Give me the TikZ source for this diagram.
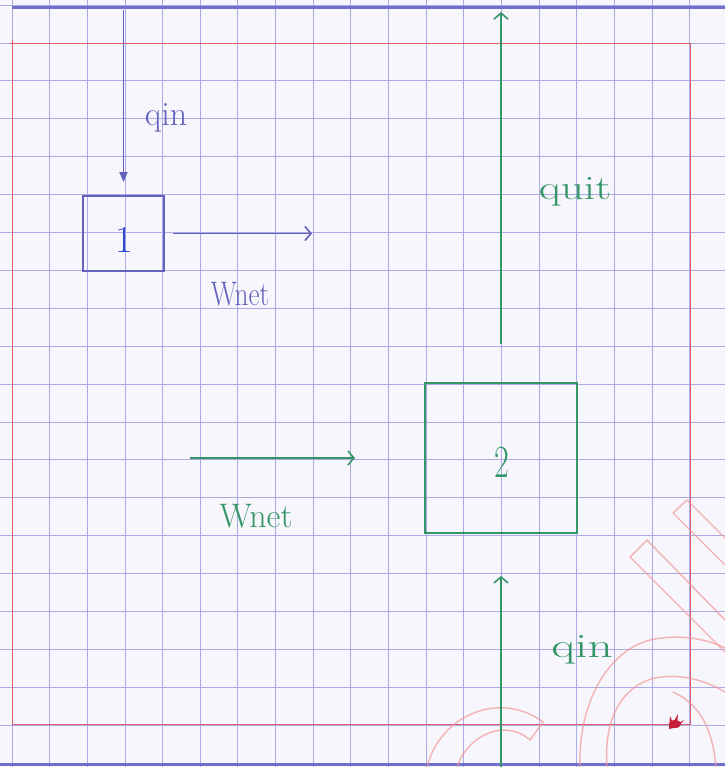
\documentclass[tikz,border=0pt]{standalone}
\usepackage{fontspec}
\usetikzlibrary{arrows.meta}
\definecolor{paper}{RGB}{247,246,252}
\definecolor{gridc}{RGB}{172,170,228}
\definecolor{marginred}{RGB}{222,95,105}
\definecolor{rulerblue}{RGB}{112,112,205}
\definecolor{inkblue}{RGB}{98,98,188}
\definecolor{onecolor}{RGB}{45,75,205}
\definecolor{inkgreen}{RGB}{52,150,102}
\definecolor{wmark}{RGB}{242,150,150}
\definecolor{blot}{RGB}{200,30,60}
\tikzset{
  gridline/.style={draw=gridc, line width=0.9pt},
  marginline/.style={draw=marginred, line width=1pt},
  rulerline/.style={draw=rulerblue, line width=3pt},
  bluebox/.style={draw=inkblue, line width=1.8pt, inner sep=0pt},
  greenbox/.style={draw=inkgreen, line width=1.8pt, inner sep=0pt},
  bluearrow/.style={draw=inkblue, line width=1.7pt},
  greenarrow/.style={draw=inkgreen, line width=1.7pt},
  barb/.style={-{Straight Barb[length=6pt,width=14pt,line width=1.6pt]}},
  bluelabel/.style={text=inkblue, font=\fontsize{34}{34}\selectfont, inner sep=0pt},
  greenlabel/.style={text=inkgreen, font=\fontsize{34}{34}\selectfont, inner sep=0pt},
  wmline/.style={draw=wmark, line width=1.4pt, opacity=0.7},
}
\begin{document}
\begin{tikzpicture}[x=1pt,y=-1pt]
\fill[paper] (0,0) rectangle (725,767);
\useasboundingbox (0,0) rectangle (725,767);
% squared paper
\foreach \k in {0,...,18} \draw[gridline] ({12+37.65*\k},0) -- ({12+37.65*\k},767);
\foreach \k in {-1,...,19} \draw[gridline] (0,{43+37.9*\k}) -- (725,{43+37.9*\k});
% margins
\draw[marginline] (10,43.5) -- (690,43.5);
\draw[marginline] (12.5,40) -- (12.5,725);
\draw[marginline] (690.5,43) -- (690.5,725);
\draw[marginline] (12,724.5) -- (691,724.5);
\draw[rulerline] (12,8) -- (725,8);
\draw[rulerline] (0,764) -- (725,764);
% watermark remnants
\draw[wmline] (673,513) -- (687,500) -- (725,538);
\draw[wmline] (673,513) -- (725,565);
\draw[wmline] (630,557) -- (647,540) -- (725,620);
\draw[wmline] (630,557) -- (725,652);
\draw[wmline] (427,767) .. controls (440,715) and (500,690) .. (543,722) -- (530,740)
  .. controls (505,718) and (468,735) .. (457,767);
\draw[wmline] (580,767) .. controls (578,700) and (610,650) .. (650,640)
  .. controls (680,633) and (710,640) .. (725,648);
\draw[wmline] (607,767) .. controls (603,715) and (625,685) .. (655,678)
  .. controls (680,673) and (705,680) .. (725,692);
\draw[wmline] (673,692) .. controls (695,702) and (712,722) .. (716,767);
% ink blot
\fill[blot] (675,724) ellipse (6pt and 4pt);
\fill[blot] (670,716) -- (673,723) -- (678,714) -- (677,724) -- (684,720) -- (678,727) -- (669,729) -- cycle;
% system 1 (blue)
\node[bluebox, minimum width=81pt, minimum height=75pt] (b1) at (123.5,233.5) {};
\node[text=onecolor, font=\fontsize{38}{38}\selectfont, inner sep=0pt] (one) at (124,240) {1};
\coordinate (qin1) at (123.5,10);
\draw[bluearrow, -{Triangle[length=10pt,width=8pt]}, shorten >=13pt] (qin1) -- (b1.north);
\coordinate (w1end) at (312,233.5);
\draw[bluearrow, barb, shorten <=8pt] (b1.east) -- (w1end);
\node[bluelabel] (lqin1) at (166,118) {qin};
\node[bluelabel, xscale=0.8] (lw1) at (240,294) {Wnet};
% system 2 (green)
\node[greenbox, minimum width=152pt, minimum height=150pt] (b2) at (501,458) {};
\node[text=inkgreen, font=\fontsize{46}{46}\selectfont, inner sep=0pt, xscale=0.7] (two) at (502,462) {2};
\coordinate (qout) at (501,12);
\draw[greenarrow, barb, shorten <=38pt] (b2.north) -- (qout);
\coordinate (qin2) at (501,767);
\draw[greenarrow, barb, shorten >=42pt] (qin2) -- (b2.south);
\coordinate (wa) at (190,458);
\coordinate (wb) at (355,458);
\draw[greenarrow, barb] (wa) -- (wb);
\node[greenlabel, xscale=1.33] (lqout) at (575,192) {quit};
\node[greenlabel] (lw2) at (256,516) {Wnet};
\node[greenlabel, xscale=1.45] (lqin2) at (582,650) {qin};
\end{tikzpicture}
\end{document}
